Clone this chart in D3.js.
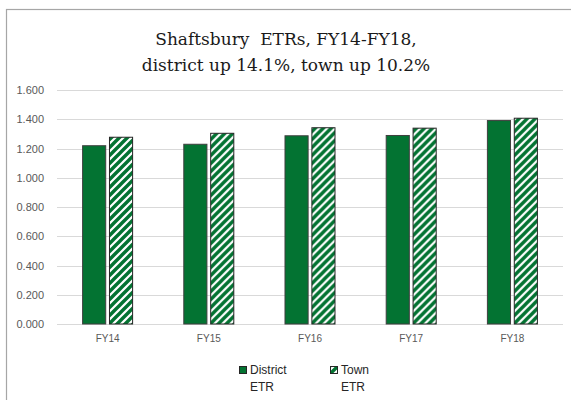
<!DOCTYPE html>
<html lang="en">
	<head>
		<meta charset="utf-8">
		<title>Shaftsbury ETRs</title>
		<script type="text/javascript" src="https://cdn.jsdelivr.net/npm/d3@7"></script>
		<style type="text/css">
			body { margin: 0; background: #fff; }
			.title { white-space: pre; font-family: "DejaVu Serif", "Noto Serif", "Times New Roman", Times, serif; }
		</style>
	</head>
	<body>
		<script type="text/javascript">

			//Size of the picture
			var w = 571;
			var h = 400;

			//Data
			var years = ["FY14", "FY15", "FY16", "FY17", "FY18"];
			var districtETR = [1.219, 1.229, 1.287, 1.289, 1.391];
			var townETR = [1.277, 1.304, 1.342, 1.339, 1.407];
			var seriesNames = ["District ETR", "Town ETR"];
			var yTicks = [0, 0.2, 0.4, 0.6, 0.8, 1.0, 1.2, 1.4, 1.6];
			var titleLines = ["Shaftsbury  ETRs, FY14-FY18,", "district up 14.1%, town up 10.2%"];

			var green = "#037332";
			var axisFont = "Liberation Sans, Arial, sans-serif";

			var svg = d3.select("body")
						.append("svg")
						.attr("width", w)
						.attr("height", h);

			//Hatch pattern for the town bars
			var pat = svg.append("defs")
						.append("pattern")
						.attr("id", "hatch")
						.attr("patternUnits", "userSpaceOnUse")
						.attr("width", 8)
						.attr("height", 8);
			pat.append("rect")
				.attr("width", 8)
				.attr("height", 8)
				.attr("fill", "white");
			pat.append("path")
				.attr("d", "M-2,2 L2,-2 M0,8 L8,0 M6,10 L10,6")
				.attr("stroke", green)
				.attr("stroke-width", 3.4);

			//Chart border
			svg.append("rect")
				.attr("x", 6.5)
				.attr("y", 9.5)
				.attr("width", 700)
				.attr("height", 500)
				.attr("fill", "none")
				.attr("stroke", "#a6a6a6")
				.attr("stroke-width", 1.2);

			//Title
			svg.append("text")
				.attr("class", "title")
				.selectAll("tspan")
				.data(titleLines)
				.enter()
				.append("tspan")
				.attr("x", 286)
				.attr("y", function(d, i) { return 45 + i * 26; })
				.attr("text-anchor", "middle")
				.attr("font-size", "17px")
				.attr("fill", "#1a1a1a")
				.text(function(d) { return d; });

			//Scales
			var xScale = d3.scaleBand()
							.domain(years)
							.range([57, 563]);

			var bw = xScale.bandwidth();
			var xInner = d3.scaleBand()
							.domain(seriesNames)
							.range([bw / 2 - 25, bw / 2 + 25])
							.paddingInner(0.14);

			var yScale = d3.scaleLinear()
							.domain([0, 1.6])
							.range([324, 90]);

			//Gridlines
			svg.append("g")
				.selectAll("line")
				.data(yTicks)
				.enter()
				.append("line")
				.attr("x1", 57)
				.attr("x2", 563)
				.attr("y1", function(d) { return Math.round(yScale(d)) + 0.5; })
				.attr("y2", function(d) { return Math.round(yScale(d)) + 0.5; })
				.attr("stroke", "#d9d9d9")
				.attr("stroke-width", 1);

			//Y axis labels
			var yAxis = d3.axisLeft(yScale)
							.tickValues(yTicks)
							.tickFormat(d3.format(".3f"))
							.tickSize(0)
							.tickPadding(0);
			var gy = svg.append("g")
						.attr("transform", "translate(44,0)")
						.call(yAxis);
			gy.select(".domain").remove();
			gy.selectAll("text")
				.attr("font-family", axisFont)
				.attr("font-size", "11px")
				.attr("fill", "#595959");

			//X axis labels
			var xAxis = d3.axisBottom(xScale)
							.tickSize(0)
							.tickPadding(8);
			var gx = svg.append("g")
						.attr("transform", "translate(0,327)")
						.call(xAxis);
			gx.select(".domain").remove();
			gx.selectAll("text")
				.attr("font-family", axisFont)
				.attr("font-size", "10px")
				.attr("fill", "#595959");

			//Bars
			var rows = years.map(function(y, i) {
				return { year: y, values: [districtETR[i], townETR[i]] };
			});

			var groups = svg.selectAll("g.year")
							.data(rows)
							.enter()
							.append("g")
							.attr("class", "year")
							.attr("transform", function(d) {
								return "translate(" + xScale(d.year) + ",0)";
							});

			groups.selectAll("rect")
				.data(function(d) {
					return d.values.map(function(v, i) {
						return { name: seriesNames[i], value: v };
					});
				})
				.enter()
				.append("rect")
				.attr("x", function(d) { return xInner(d.name); })
				.attr("y", function(d) { return yScale(d.value); })
				.attr("width", xInner.bandwidth())
				.attr("height", function(d) { return yScale(0) - yScale(d.value); })
				.attr("fill", function(d, i) { return i == 0 ? green : "url(#hatch)"; })
				.attr("stroke", function(d, i) { return i == 0 ? "#3f3f3f" : "#262626"; })
				.attr("stroke-width", 1);

			//Legend
			var legendX = [239, 330];
			var legend = svg.selectAll("g.legend")
							.data(seriesNames)
							.enter()
							.append("g")
							.attr("class", "legend")
							.attr("transform", function(d, i) {
								return "translate(" + legendX[i] + ",366)";
							});

			legend.append("rect")
				.attr("x", 0.5)
				.attr("y", 0.5)
				.attr("width", 7)
				.attr("height", 7)
				.attr("fill", function(d, i) { return i == 0 ? green : "url(#hatch)"; })
				.attr("stroke", "#262626")
				.attr("stroke-width", 1);

			legend.append("text")
				.selectAll("tspan")
				.data(function(d) { return d.split(" "); })
				.enter()
				.append("tspan")
				.attr("x", 11)
				.attr("y", function(d, i) { return 8 + i * 17; })
				.attr("font-family", axisFont)
				.attr("font-size", "12px")
				.attr("fill", "#262626")
				.text(function(d) { return d; });

		</script>
	</body>
</html>
